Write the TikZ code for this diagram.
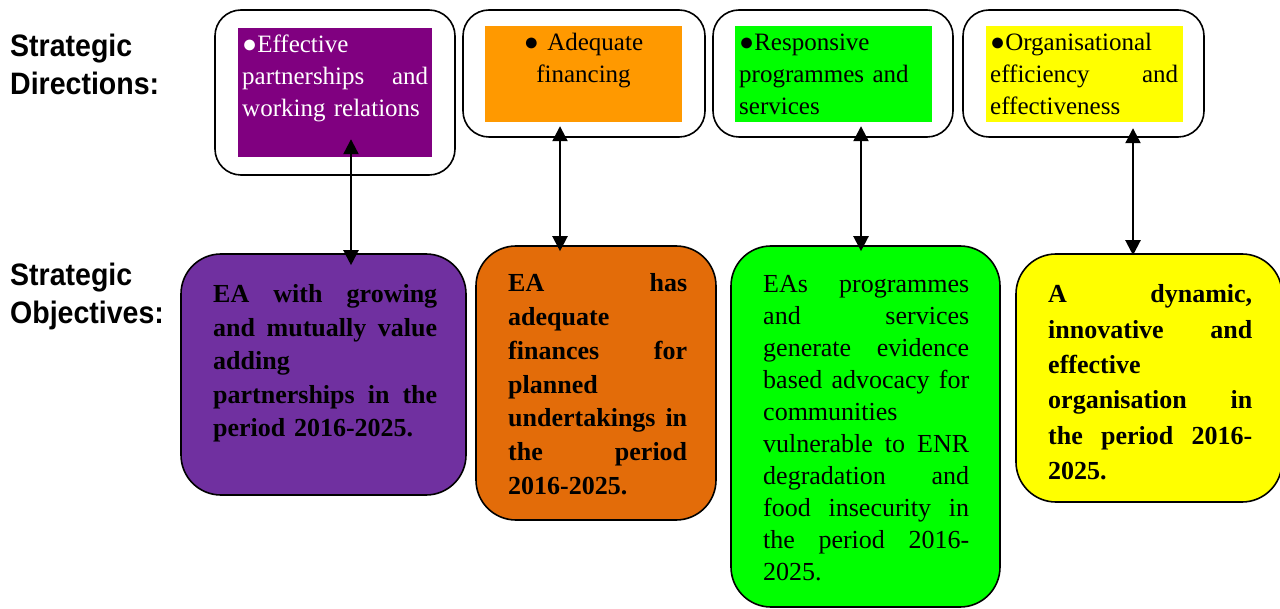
\documentclass[tikz,border=0pt]{standalone}
\usepackage{fontspec}
\setmainfont{Liberation Serif}
\setsansfont{Liberation Sans}
\newfontfamily\headfont[FakeStretch=0.92]{Liberation Sans}
\usetikzlibrary{arrows.meta}
\definecolor{dirpurple}{HTML}{800080}
\definecolor{objpurple}{HTML}{7030A0}
\definecolor{dirorange}{HTML}{FF9900}
\definecolor{objorange}{HTML}{E36C09}
\definecolor{pgreen}{HTML}{00FF00}
\definecolor{pyellow}{HTML}{FFFF00}
\begin{document}
\begin{tikzpicture}[x=1pt,y=-1pt,
  outerbox/.style={draw, line width=1.6pt, rounded corners=26pt, inner sep=0pt},
  innerbox/.style={inner sep=0pt},
  objbox/.style={draw, line width=1.6pt, rounded corners=40pt, inner sep=0pt},
  heading/.style={anchor=base west, align=left, inner sep=0pt, font=\headfont\bfseries\fontsize{31}{38}\selectfont},
  dirtext/.style={anchor=base west, align=left, inner sep=0pt, font=\fontsize{25}{32}\selectfont},
  objtext/.style={anchor=base west, align=left, inner sep=0pt},
  dbl/.style={{Triangle[width=15pt,length=15pt]}-{Triangle[width=15pt,length=15pt]}, line width=2.2pt}
]
\useasboundingbox (0,0) rectangle (1280,609);
\fill[white] (0,0) rectangle (1280,609);

% headings (base = last line)
\node[heading] (hdir) at (10,95) {Strategic\\Directions:};
\node[heading] (hobj) at (10,324) {Strategic\\Objectives:};

% strategic directions: outer frames
\node[outerbox, minimum width=240pt, minimum height=165pt] (o1) at (335,92.5) {};
\node[outerbox, minimum width=242pt, minimum height=127pt] (o2) at (584,73.5) {};
\node[outerbox, minimum width=240pt, minimum height=127pt] (o3) at (833,73.5) {};
\node[outerbox, minimum width=241pt, minimum height=127pt] (o4) at (1083.5,73.5) {};

% inner coloured panels
\node[innerbox, fill=dirpurple, minimum width=194pt, minimum height=129pt] (i1) at (335,92.5) {};
\node[innerbox, fill=dirorange, minimum width=197pt, minimum height=96pt] (i2) at (583.5,74) {};
\node[innerbox, fill=pgreen, minimum width=197pt, minimum height=96pt] (i3) at (833.5,74) {};
\node[innerbox, fill=pyellow, minimum width=197pt, minimum height=96pt] (i4) at (1084.5,74) {};

% direction texts
\node[dirtext, text=white, text width=186pt] (d1) at (242,53)
  {●Effective\\partnerships\hfill and\\working relations};
\node[dirtext, align=center, text width=197pt, anchor=base] (d2) at (583.5,51)
  {● Adequate\\financing};
\node[dirtext, text width=178pt] (d3) at (739,51)
  {●Responsive\\programmes and\\services};
\node[dirtext, text width=188pt] (d4) at (990,51)
  {●Organisational\\efficiency\hfill and\\effectiveness};

% strategic objectives boxes
\node[objbox, fill=objpurple, minimum width=285pt, minimum height=241pt] (b1) at (323.5,374.5) {};
\node[objbox, fill=objorange, minimum width=240pt, minimum height=274pt] (b2) at (596,383) {};
\node[objbox, fill=pgreen, minimum width=269pt, minimum height=361pt] (b3) at (865.5,426.5) {};
\node[objbox, fill=pyellow, minimum width=266pt, minimum height=248pt] (b4) at (1149,378) {};

% objective texts
\node[objtext, text width=224pt, font=\bfseries\fontsize{26}{33.5}\selectfont] (s1) at (213,303)
  {EA\hfill with\hfill growing\\and\hfill mutually\hfill value\\adding\\partnerships\hfill in\hfill the\\period 2016-2025.};
\node[objtext, text width=179pt, font=\bfseries\fontsize{26}{33.7}\selectfont] (s2) at (508,292)
  {EA\hfill has\\adequate\\finances\hfill for\\planned\\undertakings\hfill in\\the\hfill period\\2016-2025.};
\node[objtext, text width=206pt, font=\fontsize{26}{32}\selectfont] (s3) at (763,293)
  {EAs\hfill programmes\\and\hfill services\\generate\hfill evidence\\based\hfill advocacy\hfill for\\communities\\vulnerable\hfill to\hfill ENR\\degradation\hfill and\\food\hfill insecurity\hfill in\\the\hfill period\hfill 2016-\\2025.};
\node[objtext, text width=204pt, font=\bfseries\fontsize{26}{35.3}\selectfont] (s4) at (1048,303)
  {A\hfill dynamic,\\innovative\hfill and\\effective\\organisation\hfill in\\the\hfill period\hfill 2016-\\2025.};

% connectors
\draw[dbl] ([xshift=16pt,yshift=18pt]i1.south) -- ([xshift=27.5pt,yshift=-12pt]b1.north);
\draw[dbl] ([xshift=-23.5pt,yshift=-4pt]i2.south) -- ([xshift=-36pt,yshift=-6pt]b2.north);
\draw[dbl] ([xshift=27.5pt,yshift=-4pt]i3.south) -- ([xshift=-4.5pt,yshift=-6pt]b3.north);
\draw[dbl] ([xshift=48.5pt,yshift=-6pt]i4.south) -- ([xshift=-16pt,yshift=-2pt]b4.north);
\end{tikzpicture}
\end{document}
